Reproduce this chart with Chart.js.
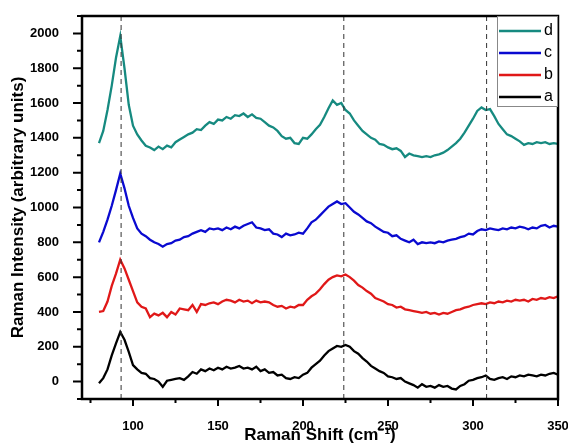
<!DOCTYPE html>
<html>
<head>
<meta charset="utf-8">
<script src="https://cdn.jsdelivr.net/npm/chart.js@4/dist/chart.umd.min.js"></script>
<style>
  html, body { margin: 0; padding: 0; background: #fff; }
  #wrap { width: 568px; height: 446px; }
</style>
</head>
<body>
<div id="wrap"><canvas id="c" width="568" height="446"></canvas></div>
<script>
// Raman shift (cm-1)
const shifts = [80, 82.5, 85, 87.5, 90, 92.5, 95, 97.5, 100, 102.5, 105, 107.5, 110, 112.5, 115, 117.5, 120, 122.5, 125, 127.5, 130, 132.5, 135, 137.5, 140, 142.5, 145, 147.5, 150, 152.5, 155, 157.5, 160, 162.5, 165, 167.5, 170, 172.5, 175, 177.5, 180, 182.5, 185, 187.5, 190, 192.5, 195, 197.5, 200, 202.5, 205, 207.5, 210, 212.5, 215, 217.5, 220, 222.5, 225, 227.5, 230, 232.5, 235, 237.5, 240, 242.5, 245, 247.5, 250, 252.5, 255, 257.5, 260, 262.5, 265, 267.5, 270, 272.5, 275, 277.5, 280, 282.5, 285, 287.5, 290, 292.5, 295, 297.5, 300, 302.5, 305, 307.5, 310, 312.5, 315, 317.5, 320, 322.5, 325, 327.5, 330, 332.5, 335, 337.5, 340, 342.5, 345, 347.5, 350];

const seriesA = [-10, 20, 70, 150, 220, 285, 240, 170, 95, 70, 50, 45, 20, 15, 0, -30, 5, 10, 15, 20, 10, 30, 55, 45, 70, 60, 75, 65, 80, 70, 85, 75, 80, 90, 75, 80, 70, 85, 60, 70, 50, 55, 35, 40, 20, 15, 25, 20, 40, 50, 80, 100, 120, 150, 175, 190, 205, 200, 210, 200, 175, 160, 135, 115, 90, 75, 60, 50, 30, 25, 15, 20, 0, -10, -20, -35, -15, -30, -25, -35, -20, -30, -25, -40, -45, -25, -15, 5, 10, 20, 25, 35, 15, 10, 20, 25, 15, 30, 25, 35, 30, 40, 35, 30, 40, 35, 45, 50, 40];

const seriesB = [400, 405, 460, 550, 620, 700, 650, 585, 520, 455, 430, 420, 370, 390, 380, 395, 370, 400, 385, 420, 415, 410, 440, 400, 445, 440, 450, 455, 445, 460, 470, 465, 455, 470, 460, 465, 450, 465, 455, 460, 455, 440, 430, 435, 420, 430, 425, 440, 440, 470, 490, 505, 530, 560, 585, 600, 610, 605, 615, 600, 580, 555, 540, 520, 505, 480, 470, 460, 445, 440, 425, 430, 415, 410, 405, 400, 395, 400, 390, 395, 385, 395, 390, 400, 410, 415, 425, 430, 440, 445, 450, 445, 455, 450, 460, 455, 465, 460, 470, 465, 470, 460, 475, 470, 480, 475, 485, 480, 490];

const seriesC = [800, 860, 930, 1010, 1100, 1195, 1110, 1010, 940, 880, 850, 835, 815, 800, 790, 775, 790, 795, 810, 815, 830, 835, 850, 860, 870, 860, 880, 875, 880, 870, 885, 875, 890, 880, 895, 905, 915, 885, 880, 870, 875, 850, 845, 830, 850, 840, 845, 855, 850, 880, 915, 930, 955, 980, 1005, 1020, 1035, 1020, 1025, 1000, 975, 960, 940, 920, 910, 890, 875, 860, 855, 835, 840, 820, 810, 800, 815, 790, 800, 795, 800, 795, 805, 800, 810, 815, 820, 830, 835, 850, 845, 865, 875, 870, 880, 875, 870, 880, 875, 885, 880, 890, 885, 875, 885, 880, 895, 900, 885, 895, 890];

const seriesD = [1370, 1440, 1560, 1700, 1860, 1985, 1800, 1590, 1470, 1420, 1385, 1355, 1345, 1330, 1350, 1335, 1355, 1345, 1375, 1390, 1405, 1420, 1430, 1450, 1445, 1470, 1490, 1480, 1505, 1500, 1520, 1510, 1530, 1525, 1540, 1520, 1535, 1515, 1510, 1490, 1470, 1460, 1440, 1410, 1395, 1400, 1370, 1365, 1400, 1395, 1420, 1450, 1475, 1520, 1570, 1615, 1590, 1600, 1560, 1540, 1500, 1470, 1440, 1420, 1400, 1390, 1365, 1360, 1345, 1335, 1340, 1325, 1290, 1310, 1300, 1295, 1290, 1295, 1290, 1300, 1305, 1315, 1330, 1350, 1370, 1395, 1430, 1470, 1510, 1555, 1575, 1560, 1565, 1525, 1480, 1450, 1420, 1410, 1395, 1380, 1360, 1370, 1365, 1375, 1370, 1375, 1365, 1370, 1365];

const seriesNames = ['a', 'b', 'c', 'd'];
const seriesColors = ['#000000', '#e01818', '#0a0ad0', '#168a80'];
const markerShifts = [93, 224, 308];
const xTickValues = [100, 150, 200, 250, 300, 350];
const xMinorValues = [75, 125, 175, 225, 275, 325];
const yTickValues = [0, 200, 400, 600, 800, 1000, 1200, 1400, 1600, 1800, 2000];
const yMinorValues = [-100, 100, 300, 500, 700, 900, 1100, 1300, 1500, 1700, 1900, 2100];

const allSeries = [seriesA, seriesB, seriesC, seriesD];

const datasets = [];
markerShifts.forEach(m => {
  datasets.push({
    label: 'marker',
    data: [{x: m, y: -100}, {x: m, y: 2100}],
    borderColor: '#333',
    borderWidth: 1,
    borderDash: [5, 4],
    pointRadius: 0,
    order: 0
  });
});
allSeries.forEach((s, i) => {
  datasets.push({
    label: seriesNames[i],
    data: shifts.map((x, j) => ({x: x, y: s[j]})),
    borderColor: seriesColors[i],
    borderWidth: 2.3,
    pointRadius: 0,
    tension: 0,
    order: 1
  });
});

const FONT = '"Liberation Sans", Arial, sans-serif';

const framePlugin = {
  id: 'frame',
  afterDraw(chart) {
    const ctx = chart.ctx;
    const a = chart.chartArea;
    const xs = chart.scales.x, ys = chart.scales.y;
    ctx.save();
    ctx.strokeStyle = '#000';
    // tick marks
    ctx.lineWidth = 2;
    ctx.beginPath();
    yTickValues.forEach(v => { const p = ys.getPixelForValue(v); ctx.moveTo(a.left - 9, p); ctx.lineTo(a.left, p); });
    yMinorValues.forEach(v => { const p = ys.getPixelForValue(v); ctx.moveTo(a.left - 5, p); ctx.lineTo(a.left, p); });
    xTickValues.forEach(v => { const p = xs.getPixelForValue(v); ctx.moveTo(p, a.bottom); ctx.lineTo(p, a.bottom + 7); });
    xMinorValues.forEach(v => { const p = xs.getPixelForValue(v); ctx.moveTo(p, a.bottom); ctx.lineTo(p, a.bottom + 4); });
    ctx.stroke();
    // frame
    ctx.lineWidth = 2.5;
    ctx.strokeRect(a.left, a.top, a.right - a.left, a.bottom - a.top);
    // legend
    const lx0 = a.right - 61, ly0 = a.top, lw = 61, lh = 91;
    ctx.fillStyle = '#fff';
    ctx.fillRect(lx0, ly0 + 1, lw - 1, lh - 1);
    ctx.lineWidth = 1;
    ctx.strokeStyle = '#888';
    ctx.strokeRect(lx0 + 0.5, ly0 + 0.5, lw - 1, lh - 1);
    ctx.font = '16px ' + FONT;
    ctx.textBaseline = 'middle';
    ctx.textAlign = 'left';
    for (let k = 0; k < 4; k++) {
      const idx = 3 - k;
      const yy = ly0 + 15 + k * 22;
      ctx.strokeStyle = seriesColors[idx];
      ctx.lineWidth = 2.5;
      ctx.beginPath();
      ctx.moveTo(lx0 + 2, yy);
      ctx.lineTo(lx0 + 44, yy);
      ctx.stroke();
      ctx.fillStyle = '#000';
      ctx.fillText(seriesNames[idx], lx0 + 47, yy);
    }
    ctx.restore();
  }
};

new Chart(document.getElementById('c'), {
  type: 'line',
  data: { datasets: datasets },
  options: {
    responsive: false,
    animation: false,
    layout: { padding: { top: 16, right: 10, left: 0, bottom: 0 } },
    plugins: { legend: { display: false }, tooltip: { enabled: false } },
    scales: {
      x: {
        type: 'linear',
        min: 70, max: 350,
        grid: { display: false },
        border: { display: false },
        afterBuildTicks(scale) { scale.ticks = xTickValues.map(v => ({value: v})); },
        afterFit(scale) { scale.height = 47; scale.paddingLeft = 0; scale.paddingRight = 0; },
        ticks: {
          padding: 12,
          color: '#000',
          font: { family: FONT, size: 13, weight: 'bold' },
          maxRotation: 0,
          callback: v => String(v)
        },
        title: {
          display: true,
          text: 'Raman Shift (cm\u207B\u00B9)',
          color: '#000',
          font: { family: FONT, size: 17, weight: 'bold' },
          padding: { top: 0, bottom: 0 }
        }
      },
      y: {
        type: 'linear',
        min: -100, max: 2100,
        grid: { display: false },
        border: { display: false },
        afterBuildTicks(scale) { scale.ticks = yTickValues.map(v => ({value: v})); },
        afterFit(scale) { scale.width = 82; scale.paddingTop = 0; scale.paddingBottom = 0; },
        ticks: {
          padding: 15,
          color: '#000',
          font: { family: FONT, size: 13, weight: 'bold' },
          callback: v => String(v)
        },
        title: {
          display: true,
          text: 'Raman Intensity (arbitrary units)',
          color: '#000',
          font: { family: FONT, size: 17, weight: 'bold' },
          padding: { top: 8, bottom: 0 }
        }
      }
    }
  },
  plugins: [framePlugin]
});
</script>
</body>
</html>
